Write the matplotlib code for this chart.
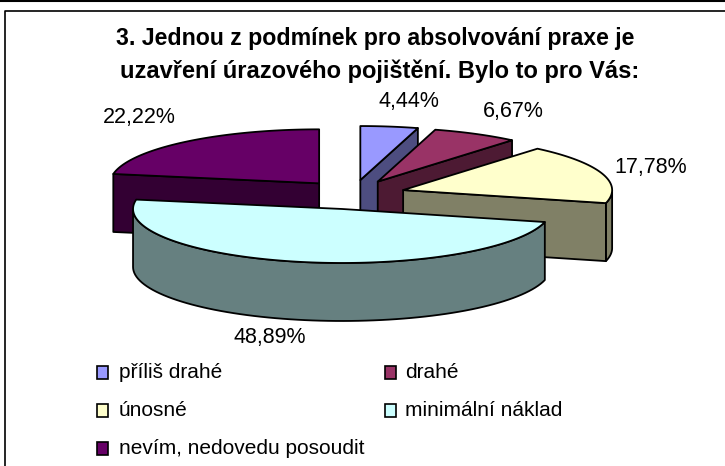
import numpy as np
import matplotlib
matplotlib.use('Agg')
import matplotlib.pyplot as plt
from matplotlib.patches import Rectangle

title = ['3. Jednou z podmínek pro absolvování praxe je', 'uzavření úrazového pojištění. Bylo to pro Vás:']
labels = ['příliš drahé', 'drahé', 'únosné', 'minimální náklad', 'nevím, nedovedu posoudit']
values = [4.44, 6.67, 17.78, 48.89, 22.22]
value_text = ['4,44%', '6,67%', '17,78%', '48,89%', '22,22%']
colors = ['#9999FF', '#993366', '#FFFFCC', '#CCFFFF', '#660066']
dark = ['#4D4D80', '#4D1A33', '#808066', '#668080', '#330033']

# pie geometry, in pixels
cx, cy = 353, 194.6
rx, ry = 209, 54
ex, ey = 52.7, 14.7
depth = 58
label_pos = [(409, 102), (513, 111), (651, 167), (270, 337), (139, 118)]

plt.rcParams['font.family'] = ['Liberation Sans', 'DejaVu Sans']

fig = plt.figure(figsize=(7.25, 4.66), dpi=100)
ax = fig.add_axes([0, 0, 1, 1])
ax.set_xlim(0, 725)
ax.set_ylim(466, 0)
ax.axis('off')

# outer frame
ax.plot([0, 725], [0.5, 0.5], color='black', lw=1.5)
ax.plot([5, 5, 725], [466, 10.5, 10.5], color='black', lw=1.2)


def rim(ox, oy, t):
    return ox + rx * np.sin(t), oy - ry * np.cos(t)


def face(xs, ys, c):
    ax.fill(xs, ys, facecolor=c, edgecolor='black', lw=1.3, joinstyle='round')


edges = np.radians(np.cumsum([0] + values) / sum(values) * 360)
mids = (edges[:-1] + edges[1:]) / 2

# back to front, same order excel draws them
for i in [4, 0, 1, 2, 3]:
    t1, t2 = edges[i], edges[i + 1]
    ox = cx + ex * np.sin(mids[i])
    oy = cy - ey * np.cos(mids[i])
    # outer wall, only the front half shows
    a = max(t1, np.pi / 2)
    b = min(t2, 3 * np.pi / 2)
    if a < b:
        t = np.linspace(a, b, 80)
        x, y = rim(ox, oy, t)
        face(np.r_[x, x[::-1]], np.r_[y, y[::-1] + depth], dark[i])
    # cut faces
    for ang, show in [(t1, np.sin(t1) < -1e-6), (t2, np.sin(t2) > 1e-6)]:
        if show:
            x, y = rim(ox, oy, ang)
            face([ox, x, x, ox], [oy, y, y + depth, oy + depth], dark[i])
    # top
    t = np.linspace(t1, t2, 120)
    x, y = rim(ox, oy, t)
    face(np.r_[ox, x], np.r_[oy, y], colors[i])

for txt, (x, y) in zip(value_text, label_pos):
    ax.text(x, y, txt, fontsize=15.5, ha='center', va='center')

ax.text(375.5, 38, title[0], fontsize=16.7, fontweight='bold', ha='center', va='center')
ax.text(380, 71, title[1], fontsize=17, fontweight='bold', ha='center', va='center')

# legend
leg_x = [97, 385]
leg_y = [372, 410, 448]
for i, lab in enumerate(labels):
    x = leg_x[i % 2]
    y = leg_y[i // 2]
    ax.add_patch(Rectangle((x, y - 6), 11, 13, facecolor=colors[i], edgecolor='black', lw=1.2))
    ax.text(x + 22 - 2 * (i % 2), y, lab, fontsize=15, ha='left', va='center')

fig.savefig('out.png', dpi=100)
